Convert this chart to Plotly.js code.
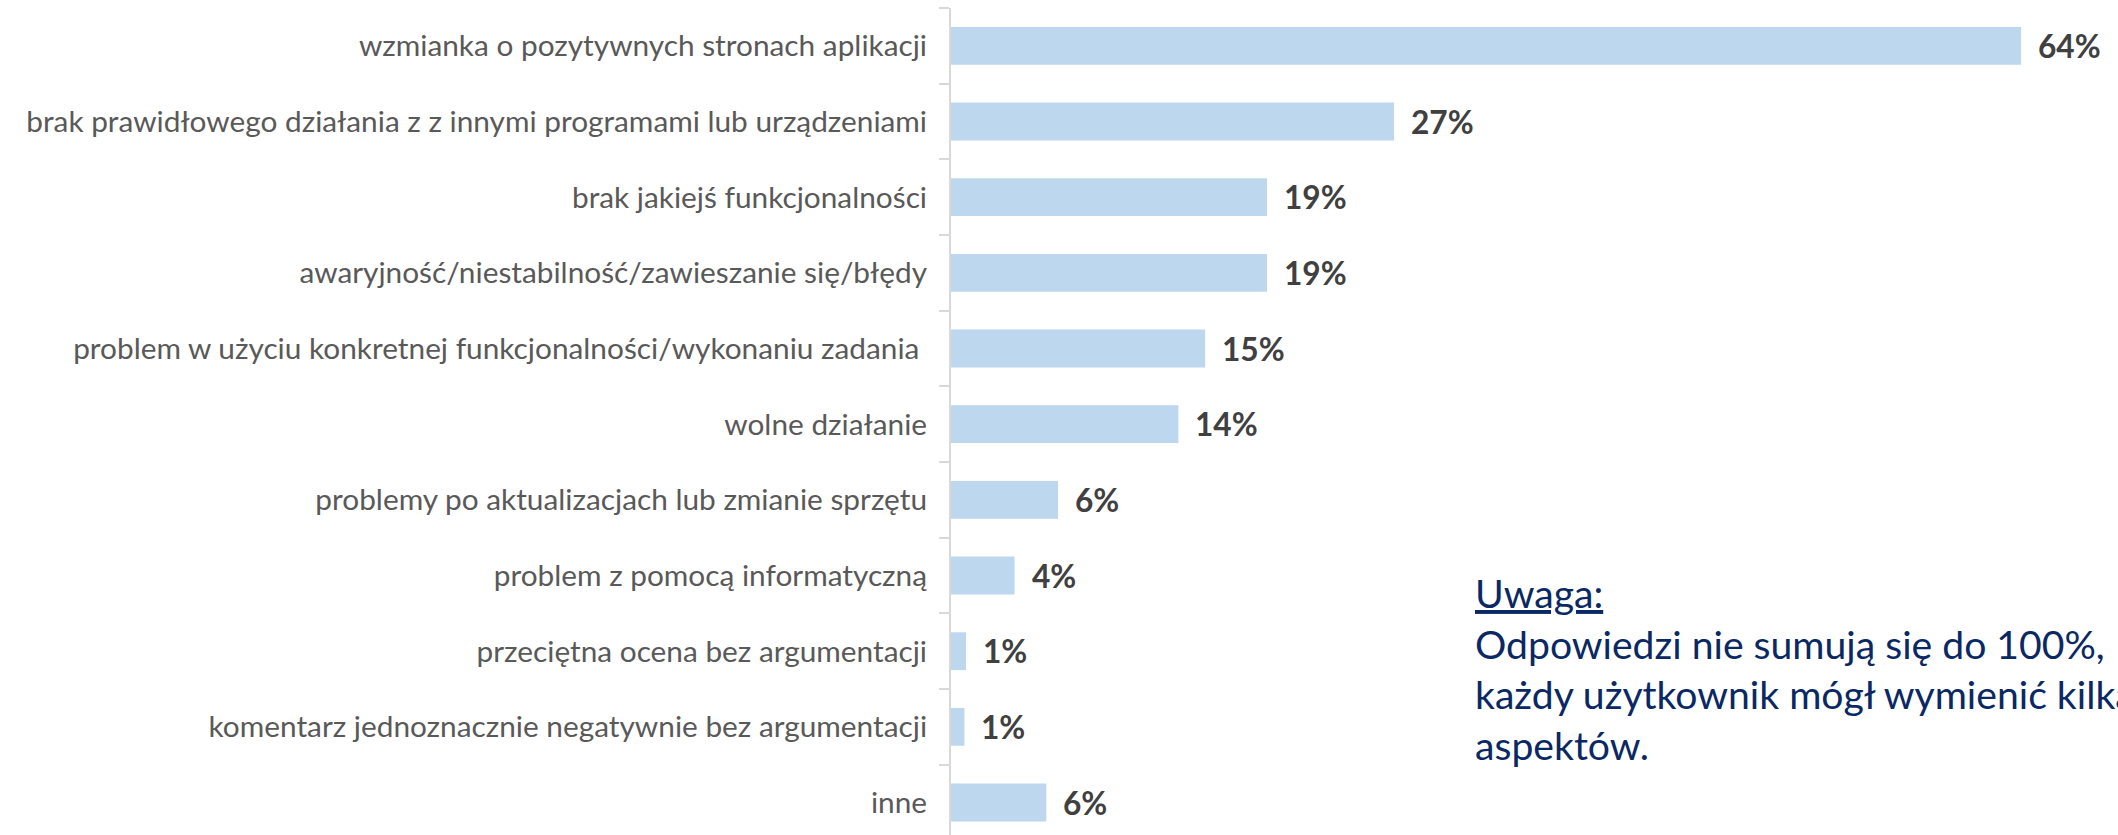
<!DOCTYPE html>
<html>
<head>
<meta charset="utf-8">
<script src="https://cdn.plot.ly/plotly-3.0.1.min.js"></script>
<style>
  html, body { margin: 0; padding: 0; background: #ffffff; overflow: hidden; }
  #chart { width: 2118px; height: 835px; }
</style>
</head>
<body>
<div id="chart"></div>
<script>
// ---- data ----
const categories = [
  "wzmianka o pozytywnych stronach aplikacji",
  "brak prawidłowego działania z z innymi programami lub urządzeniami",
  "brak jakiejś funkcjonalności",
  "awaryjność/niestabilność/zawieszanie się/błędy",
  "problem w użyciu konkretnej funkcjonalności/wykonaniu zadania\u00a0",
  "wolne działanie",
  "problemy po aktualizacjach lub zmianie sprzętu",
  "problem z pomocą informatyczną",
  "przeciętna ocena bez argumentacji",
  "komentarz jednoznacznie negatywnie bez argumentacji",
  "inne"
];
const values = [64, 26.5, 18.9, 18.9, 15.2, 13.6, 6.4, 3.8, 0.9, 0.8, 5.7];
const valueLabels = ["64%", "27%", "19%", "19%", "15%", "14%", "6%", "4%", "1%", "1%", "6%"];
const noteTitle = "Uwaga:";
const noteLines = [
  "Odpowiedzi nie sumują się do 100%,",
  "każdy użytkownik mógł wymienić kilka",
  "aspektów."
];

// ---- layout geometry ----
const W = 2118, H = 835;
const M = { l: 951, r: 0, t: 8, b: 0 };
const plotW = W - M.l - M.r, plotH = H - M.t - M.b;
const FONT = "Lato, 'Open Sans', sans-serif";

// fit font sizes to the widths seen in the reference
const cv = document.createElement("canvas").getContext("2d");
function fit(text, weight, target) {
  cv.font = weight + " 100px Lato";
  const w = cv.measureText(text).width;
  return 100 * target / w;
}
const catSize = fit(categories[1], "normal", 901);
const valSize = fit("64%", "bold", 62.7);
const noteSize = fit(noteLines[0], "normal", 630);

const px2x = px => (px - M.l) / plotW;
const px2y = py => 1 - (py - M.t) / plotH;

const trace = {
  type: "bar",
  orientation: "h",
  y: categories,
  x: values,
  marker: { color: "#BDD7EE", line: { width: 0 } },
  hoverinfo: "skip"
};

const annotations = [];
values.forEach((v, i) => {
  annotations.push({
    xref: "x", yref: "y",
    x: v, y: categories[i],
    text: "<b>" + valueLabels[i] + "</b>",
    showarrow: false,
    xanchor: "left", yanchor: "middle",
    xshift: 15,
    font: { family: FONT, size: valSize, color: "#404040" }
  });
});

const noteColor = "#0A2864";
const baselines = [607, 657.5, 708, 758.5];
const noteTexts = ["<u>" + noteTitle + "</u>"].concat(noteLines);
noteTexts.forEach((t, i) => {
  annotations.push({
    xref: "paper", yref: "paper",
    x: px2x(1473), y: px2y(baselines[i] - 0.37 * noteSize),
    text: t,
    showarrow: false,
    xanchor: "left", yanchor: "middle", align: "left",
    font: { family: FONT, size: noteSize, color: noteColor }
  });
});

const layout = {
  width: W, height: H,
  margin: M,
  paper_bgcolor: "#ffffff",
  plot_bgcolor: "#ffffff",
  showlegend: false,
  bargap: 0.5,
  xaxis: {
    range: [0, plotW / 16.72],
    visible: false,
    fixedrange: true
  },
  yaxis: {
    type: "category",
    categoryorder: "array",
    categoryarray: categories,
    range: [-0.5 + plotH / 75.67, -0.5],
    showline: true,
    linecolor: "#D9D9D9",
    linewidth: 2,
    ticks: "outside",
    tickson: "boundaries",
    ticklen: 10,
    tickwidth: 2,
    tickcolor: "#D9D9D9",
    ticklabelstandoff: 16,
    showgrid: false,
    zeroline: false,
    automargin: false,
    tickfont: { family: FONT, size: catSize, color: "#595959" },
    fixedrange: true
  },
  annotations: annotations
};

Plotly.newPlot("chart", [trace], layout, { displayModeBar: false, staticPlot: true });
</script>
</body>
</html>
